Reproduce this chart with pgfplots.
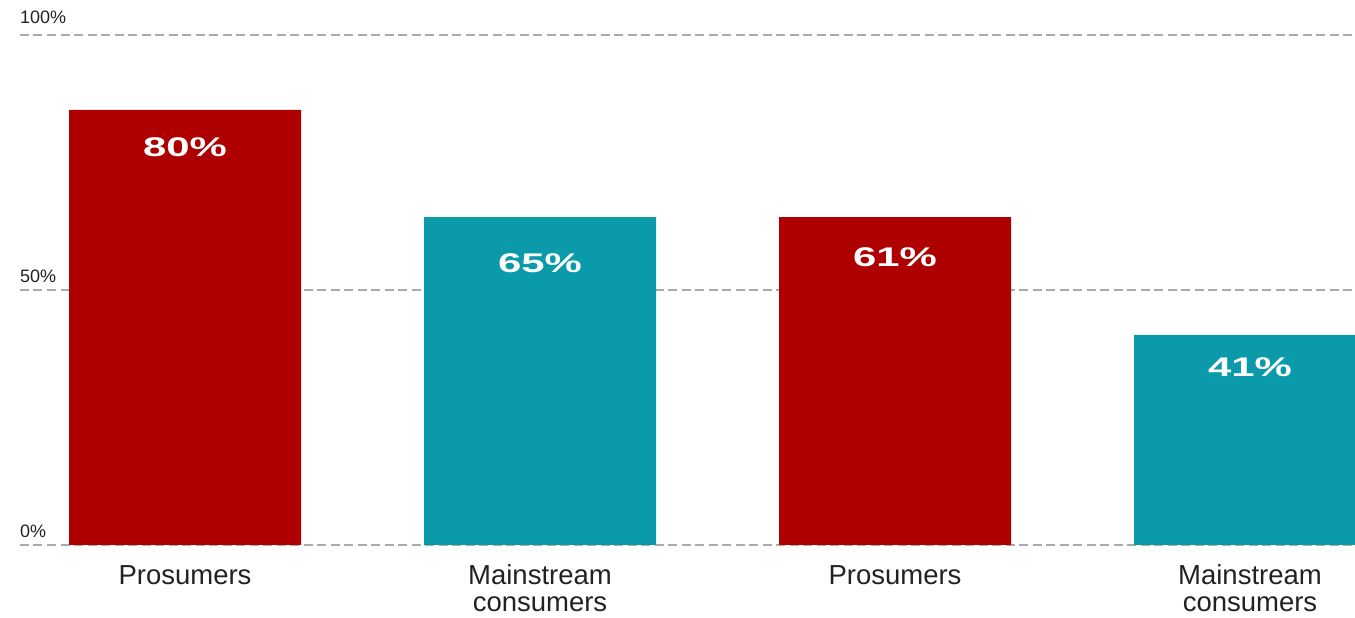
\documentclass[border=0pt]{standalone}
\usepackage{pgfplots}
\pgfplotsset{compat=1.18}
\usepackage{fontspec}
\setmainfont{Liberation Sans}
\newfontfamily\widefont[FakeStretch=1.55]{Liberation Sans Bold}
\definecolor{barred}{HTML}{AE0000}
\definecolor{barteal}{HTML}{0B9AA9}
\definecolor{gridgray}{HTML}{AAAAAA}
\definecolor{txt}{HTML}{222222}
\newcommand{\lstrut}{\rule{0pt}{20pt}}
\begin{document}
\begin{tikzpicture}[x=1pt,y=1pt]
\useasboundingbox (0,0) rectangle (1355,618);
\begin{axis}[
  at={(20pt,73pt)}, anchor=south west,
  scale only axis, width=1335pt, height=510pt,
  xmin=20, xmax=1355, ymin=0, ymax=100,
  axis line style={draw=none},
  major tick length=0pt,
  tick style={draw=none},
  ytick={0,50,100},
  yticklabels={0\%,50\%,\raisebox{4pt}{100\%}},
  yticklabel style={anchor=base west, inner sep=0pt, xshift=0pt, yshift=7pt,
    font=\fontsize{18}{18}\selectfont, text=txt},
  ymajorgrids,
  grid style={gridgray, line width=2pt, dash pattern=on 9pt off 4.5pt},
  xtick={185,540,895,1250},
  xticklabels={\lstrut Prosumers,{\lstrut Mainstream\\consumers},\lstrut Prosumers,{\lstrut Mainstream\\consumers}},
  xticklabel style={anchor=north, align=center, inner sep=0pt, yshift=-19pt,
    font=\fontsize{27.5}{27}\selectfont, text=txt},
  ybar, bar width=232pt, bar shift=0pt,
]
\addplot[fill=barred, draw=none] coordinates {(185,85.3) (895,64.3)};
\addplot[fill=barteal, draw=none] coordinates {(540,64.3) (1250,41.2)};
\node[font=\widefont\fontsize{27}{27}\selectfont, text=white, anchor=base] at (axis cs:185,76.1) {80\%};
\node[font=\widefont\fontsize{27}{27}\selectfont, text=white, anchor=base] at (axis cs:540,53.5) {65\%};
\node[font=\widefont\fontsize{27}{27}\selectfont, text=white, anchor=base] at (axis cs:895,54.7) {61\%};
\node[font=\widefont\fontsize{27}{27}\selectfont, text=white, anchor=base] at (axis cs:1250,33.1) {41\%};
\end{axis}
\end{tikzpicture}
\end{document}
